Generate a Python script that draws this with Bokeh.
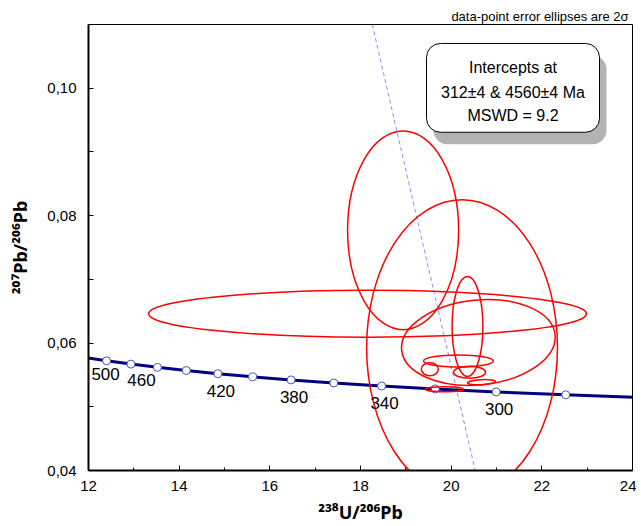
from bokeh.plotting import figure
from bokeh.models import (Range1d, FixedTicker, CustomJSTickFormatter, Label,
                          BoxAnnotation, ColumnDataSource)
from bokeh.embed import file_html
from bokeh.resources import INLINE

# ---------------- data ----------------
# concordia curve (ages in Ma)
conc_age = [520, 500, 480, 460, 440, 420, 400, 380, 360, 340, 320, 300, 280, 260]
conc_x = [11.904, 12.399, 12.936, 13.520, 14.157, 14.854, 15.621, 16.469,
          17.411, 18.465, 19.649, 20.992, 22.527, 24.297]
conc_y = [0.05774, 0.05722, 0.05670, 0.05619, 0.05569, 0.05519, 0.05470,
          0.05422, 0.05374, 0.05326, 0.05280, 0.05233, 0.05188, 0.05143]
labelled_ages = [500, 460, 420, 380, 340, 300]

# 2-sigma error ellipses (centre, full width/height in data units, tilt)
ell_x = [18.94, 20.24, 18.155, 20.60, 20.36, 20.16, 19.53, 20.405, 20.67, 19.85]
ell_y = [0.0777, 0.0593, 0.0646, 0.0601, 0.0626, 0.0572, 0.0559, 0.05543, 0.05386, 0.05276]
ell_w = [2.45, 4.21, 9.66, 3.40, 0.68, 1.54, 0.375, 0.706, 0.618, 0.84]
ell_h = [0.0312, 0.0464, 0.00736, 0.01332, 0.01566, 0.00188, 0.00204, 0.00188, 0.00078, 0.00078]
ell_a = [0.0, 0.0, 0.0, 0.1, 0.0, 0.0, 0.0, 0.0, 0.05, 0.0]

# discordia (regression) line end points
disc_x = [18.26, 20.53]
disc_y = [0.11, 0.04]

x_ticks = [12, 14, 16, 18, 20, 22, 24]
x_minor = [13, 15, 17, 19, 21, 23]
y_ticks = [0.04, 0.06, 0.08, 0.10]
y_minor = [0.05, 0.07, 0.09]

x_title = "\u00b2\u00b3\u2078U/\u00b2\u2070\u2076Pb"
y_title = "\u00b2\u2070\u2077Pb/\u00b2\u2070\u2076Pb"
box_lines = ["Intercepts at", "312\u00b14 & 4560\u00b14 Ma", "MSWD = 9.2"]
note_text = "data-point error ellipses are 2\u03c3"

# ---------------- layout ----------------
X0, X1, Y0, Y1 = 12, 24, 0.04, 0.11
W, H = 636, 526
BL, BR, BT, BB = 88, 4, 24, 55
FL, FR, FT, FB = BL, W - BR, BT, H - BB   # frame in canvas px


def dx(px):
    return X0 + (px - FL) * (X1 - X0) / (FR - FL)


def dy(py):
    return Y0 + (FB - py) * (Y1 - Y0) / (FB - FT)


def px(x):
    return FL + (x - X0) * (FR - FL) / (X1 - X0)


def py(y):
    return FB - (y - Y0) * (FB - FT) / (Y1 - Y0)


FONT = "Liberation Sans"
TITLE_FONT = "Noto Sans"

p = figure(width=W, height=H, output_backend="svg", toolbar_location=None,
           x_range=Range1d(X0, X1), y_range=Range1d(Y0, Y1),
           min_border_left=BL, min_border_right=BR, min_border_top=BT,
           min_border_bottom=BB, title=note_text, title_location="above")
p.grid.visible = False
p.outline_line_color = "black"
p.outline_line_width = 1
p.outline_line_alpha = 1.0
p.background_fill_color = "white"
p.border_fill_color = "white"

p.title.align = "right"
p.title.offset = 4
p.title.standoff = 1
p.title.text_font = FONT
p.title.text_font_size = "13px"
p.title.text_font_style = "normal"
p.title.text_color = "black"

for ax in (p.xaxis, p.yaxis):
    ax.axis_line_width = 2
    ax.axis_line_color = "black"
    ax.major_tick_in = 5
    ax.major_tick_out = 0
    ax.minor_tick_in = 3
    ax.minor_tick_out = 0
    ax.major_tick_line_color = "black"
    ax.minor_tick_line_color = "black"
    ax.major_label_text_font = FONT
    ax.major_label_text_font_size = "15px"
    ax.major_label_text_color = "black"
    ax.axis_label_text_font = TITLE_FONT
    ax.axis_label_text_font_style = "bold"
    ax.axis_label_text_font_size = "18px"
    ax.axis_label_text_color = "black"

p.xaxis.ticker = FixedTicker(ticks=x_ticks, minor_ticks=x_minor)
p.yaxis.ticker = FixedTicker(ticks=y_ticks, minor_ticks=y_minor)
p.yaxis.formatter = CustomJSTickFormatter(code="return tick.toFixed(2).replace('.', ',');")
p.xaxis.major_label_standoff = 10
p.yaxis.major_label_standoff = 12
p.yaxis.minor_tick_in = 5
p.xaxis.axis_label = x_title
p.yaxis.axis_label = y_title
p.xaxis.axis_label_standoff = 6
p.yaxis.axis_label_standoff = 12


def canvas_label(x, y, text, **kw):
    opts = dict(x_units="canvas", y_units="canvas", text_font=FONT,
                text_color="black")
    opts.update(kw)
    p.add_layout(Label(x=x, y=y, text=text, **opts))


# discordia
p.line(disc_x, disc_y, line_color="#8c8cff", line_width=1, line_dash="4 3")

# concordia curve and age markers
p.line(conc_x, conc_y, line_color="#000080", line_width=3)
p.scatter(conc_x[1:-1], conc_y[1:-1], marker="circle", size=8,
          fill_color="white", line_color="#5050c0", line_width=1)

# error ellipses
src = ColumnDataSource(dict(x=ell_x, y=ell_y, w=ell_w, h=ell_h, a=ell_a))
p.ellipse(x="x", y="y", width="w", height="h", angle="a", source=src,
          fill_alpha=0, line_color="#ff0000", line_width=1.5)

# age labels on the concordia
offsets = {500: (-1, 12), 460: (-16, 12)}
for age in labelled_ages:
    i = conc_age.index(age)
    ox, oy = offsets.get(age, (3, 16))
    canvas_label(px(conc_x[i]) + ox, py(conc_y[i]) + oy, str(age),
                 text_align="center", text_baseline="middle",
                 text_font_size="17px")

# intercept box with shadow
p.add_layout(BoxAnnotation(left=dx(433), right=dx(606), top=dy(55), bottom=dy(144),
                           fill_color="#b3b3b3", fill_alpha=1, line_alpha=0,
                           border_radius=14))
p.add_layout(BoxAnnotation(left=dx(426), right=dx(599), top=dy(43), bottom=dy(132),
                           fill_color="white", fill_alpha=1, line_color="black",
                           line_width=1, line_alpha=1, border_radius=14))
for t, yy in zip(box_lines, [66.5, 91.5, 115]):
    canvas_label(512.5, yy, t, text_align="center", text_baseline="middle",
                 text_font_size="16px")

open("out.html", "w").write(file_html(p, INLINE))
